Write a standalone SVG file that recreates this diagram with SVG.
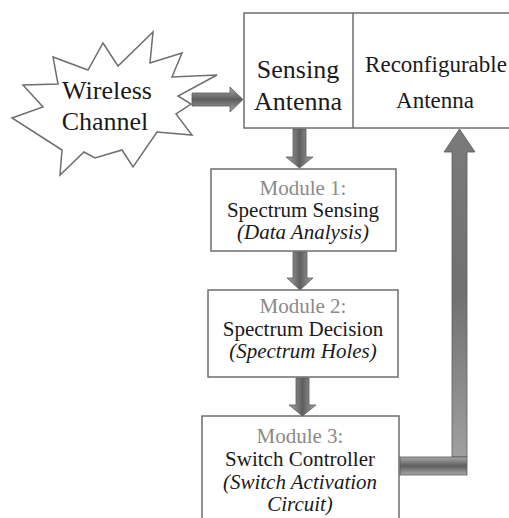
<svg xmlns="http://www.w3.org/2000/svg" width="509" height="518" viewBox="0 0 509 518">
<defs>
<style>
.box{fill:#fff;stroke:#6e6e6e;stroke-width:1.5}
text{font-family:'Liberation Serif','Times New Roman','DejaVu Serif',serif;fill:#1a1a1a;text-anchor:middle}
.big{font-size:26px}
.mid{font-size:23px}
.m{font-size:21px}
.g{fill:#8a8a8a}
.i{font-style:italic}
.arr{stroke:#5a5a5a;stroke-width:0.8}
</style>
<linearGradient id="gv" x1="0" y1="0" x2="1" y2="0">
<stop offset="0" stop-color="#a8a8a8"/>
<stop offset="0.5" stop-color="#5e5e5e"/>
<stop offset="1" stop-color="#a8a8a8"/>
</linearGradient>
<linearGradient id="gh" x1="0" y1="0" x2="0" y2="1">
<stop offset="0" stop-color="#a8a8a8"/>
<stop offset="0.5" stop-color="#5e5e5e"/>
<stop offset="1" stop-color="#a8a8a8"/>
</linearGradient>
<linearGradient id="gup" x1="0" y1="0" x2="0" y2="1">
<stop offset="0" stop-color="#7a7a7a"/>
<stop offset="0.5" stop-color="#707070"/>
<stop offset="1" stop-color="#a0a0a0"/>
</linearGradient>
</defs>

<g id="wireless-channel">
<polygon class="box" points="23,85 58,84 53,57 88,70 103,43 118,66 153,32 150,63 182,53 172,77 217,75 178,96 191,104 176,114 192,135 157,132 133,167 122,150 95,158 84,152 60,175 62,150 12,118 43,107"/>
<text class="big" x="107" y="99">Wireless</text>
<text class="big" x="105" y="130">Channel</text>
</g>

<g id="antenna">
<rect class="box" x="244" y="13" width="270" height="115"/>
<line class="box" x1="353" y1="13" x2="353" y2="128"/>
</g>
<g id="sensing-antenna">
<text class="big" x="298" y="78">Sensing</text>
<text class="big" x="298" y="110">Antenna</text>
</g>
<g id="reconfigurable-antenna">
<text class="mid" x="436" y="72">Reconfigurable</text>
<text class="mid" x="435" y="108">Antenna</text>
</g>

<g id="module1">
<rect class="box" x="211" y="169" width="185" height="82"/>
<text class="m g" x="303" y="195">Module 1:</text>
<text class="m" x="303" y="217">Spectrum Sensing</text>
<text class="m i" x="303" y="239">(Data Analysis)</text>
</g>

<g id="module2">
<rect class="box" x="208" y="290" width="190" height="87"/>
<text class="m g" x="303" y="313">Module 2:</text>
<text class="m" x="303" y="336">Spectrum Decision</text>
<text class="m i" x="303" y="358">(Spectrum Holes)</text>
</g>

<g id="module3">
<rect class="box" x="202" y="416" width="197" height="120"/>
<text class="m g" x="300" y="443">Module 3:</text>
<text class="m" x="300" y="466">Switch Controller</text>
<text class="m i" x="300" y="489">(Switch Activation</text>
<text class="m i" x="300" y="511">Circuit)</text>
</g>

<g id="connectors">
<polygon class="arr" fill="url(#gh)" points="192,93 230,93 230,87 243,99.5 230,112 230,106 192,106"/>
<polygon class="arr" fill="url(#gv)" points="293,129 306,129 306,157 313,157 299.5,168 286,157 293,157"/>
<polygon class="arr" fill="url(#gv)" points="293,252 307,252 307,278 313,278 300,290 287,278 293,278"/>
<polygon class="arr" fill="url(#gv)" points="296,378 309,378 309,405 316,405 302.5,416 289,405 296,405"/>
<polygon class="arr" fill="url(#gup)" points="452,457 452,152 444,152 459.5,129 475,152 467,152 467,457"/>
<rect class="arr" fill="url(#gh)" x="400" y="457" width="67" height="18"/>
</g>
</svg>
